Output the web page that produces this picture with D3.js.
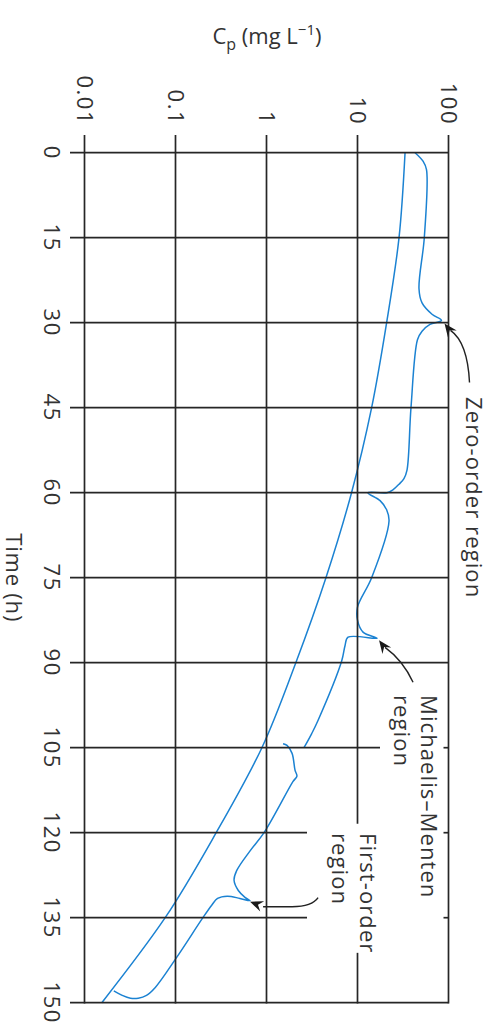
<!DOCTYPE html>
<html>
<head>
<meta charset="utf-8">
<script src="https://cdn.jsdelivr.net/npm/d3@7"></script>
<style>
  html, body { margin: 0; padding: 0; background: #fff; }
  svg { display: block; }
  text { font-family: "Open Sans", Lato, sans-serif; fill: #333; }
</style>
</head>
<body>
<svg id="chart" width="491" height="1030"></svg>
<script>
// ---------- data ----------
const cpTicks = [0.01, 0.1, 1, 10, 100];
const cpTickLabels = ["0.01", "0.1", "1", "10", "100"];
const timeTicks = [0, 15, 30, 45, 60, 75, 90, 105, 120, 135, 150];
const timeTickLabels = ["0", "15", "30", "45", "60", "75", "90", "105", "120", "135", "150"];

// single smooth decline
const curve1Time = [0, 15, 30, 45, 60, 75, 90, 105, 120, 135, 150];
const curve1Cp   = [33.3, 28.6, 20.9, 14.3, 8.6, 4.5, 2.1, 0.89, 0.28, 0.077, 0.0155];

// stepped trace (time, concentration), in drawing order; null = pen lifted
const curve2Time = [0, 1.5, 3, 15, 24, 26.5, 28.5, 29.6,
  30.3, 31.5, 33, 45, 56, 57.5, 58.5, 59.5, 60, 60,
  61.4, 63, 65, 75, 80.2, 82.5, 84.6, 85.7, 85.5,
  87, 89.7, 100.2, 102.5, 105, null, 104.3,
  104.6, 106, 109, 110, 111, 120, 123.2, 126.7, 128.4, 130.2, 131.4, 132,
  131.6, 131.2, 131.6,
  132.8, 135, 142, 147.3, 148.7, 149.2, 149.2, 148.7, 147.9];
const curve2Cp = [42.9, 52.5, 57.3, 54.2, 47.4, 51.2, 65.9, 83.8,
  62.6, 51.2, 45.6, 38.7, 35.0, 32.4, 28.6, 24.5, 21.1, 13.0,
  17.7, 20.9, 22.2, 14.3, 10.0, 10.0, 11.5, 16.4, 7.87,
  7.29, 6.70, 3.68, 3.14, 2.58, null, 1.52,
  1.68, 1.91, 2.06, 2.16, 1.95, 0.94, 0.66, 0.47, 0.44, 0.49, 0.58, 0.66,
  0.51, 0.37, 0.29,
  0.25, 0.20, 0.103, 0.060, 0.048, 0.039, 0.032, 0.026, 0.021];

// annotations: label lines and the point on the trace they point at
const annoLabels  = [["Zero-order region"], ["Michaelis\u2013Menten", "region"], ["First-order", "region"]];
const annoTargetT = [29.6, 85.7, 132];
const annoTargetCp = [83.8, 16.4, 0.66];

// ---------- layout ----------
const svg = d3.select("#chart");
const x = d3.scaleLog().domain([0.01, 100]).range([84.5, 448.5]);
const y = d3.scaleLinear().domain([0, 150]).range([152.7, 1002.7]);
const FS = 22;
const gridColor = "#262626";
const blue = "#1b82d2";

const c1 = curve1Time.map((t, i) => ({ t, cp: curve1Cp[i] }));
const c2 = curve2Time.map((t, i) => ({ t, cp: curve2Cp[i] }));

const line1 = d3.line().x(d => x(d.cp)).y(d => y(d.t)).curve(d3.curveMonotoneY);
const line2 = d3.line().defined(d => d.cp != null && d.t != null)
  .x(d => x(d.cp)).y(d => y(d.t)).curve(d3.curveCatmullRom.alpha(0.5));

// curves
svg.append("path").attr("d", line1(c1)).attr("fill", "none")
  .attr("stroke", blue).attr("stroke-width", 1.5);
svg.append("path").attr("d", line2(c2)).attr("fill", "none")
  .attr("stroke", blue).attr("stroke-width", 1.5).attr("stroke-linejoin", "round");

// grid
const grid = svg.append("g").attr("stroke", gridColor).attr("stroke-width", 1.7);
const xLeftStub = 70, yTopStub = 135;
const hEnd = { 105: 380, 120: 307, 135: 307 };
timeTicks.forEach(t => {
  const xe = hEnd[t] !== undefined ? hEnd[t] : x(100);
  grid.append("line").attr("x1", xLeftStub).attr("x2", xe)
    .attr("y1", y(t)).attr("y2", y(t));
  if (hEnd[t] !== undefined) {
    grid.append("line").attr("x1", x(100) - 5).attr("x2", x(100))
      .attr("y1", y(t)).attr("y2", y(t));
  }
});
cpTicks.forEach(c => {
  if (c === 10) {
    grid.append("line").attr("x1", x(c)).attr("x2", x(c)).attr("y1", yTopStub).attr("y2", y(118.4));
    grid.append("line").attr("x1", x(c)).attr("x2", x(c)).attr("y1", y(141.2)).attr("y2", y(150) + 0.8);
  } else {
    grid.append("line").attr("x1", x(c)).attr("x2", x(c)).attr("y1", yTopStub).attr("y2", y(150) + 0.8);
  }
});

// tick labels
cpTicks.forEach((c, i) => {
  svg.append("text").attr("transform", `translate(${x(c)},125) rotate(90)`)
    .attr("text-anchor", "end").attr("dy", "0.36em")
    .style("font-size", FS + "px").style("letter-spacing", "1.5px").text(cpTickLabels[i]);
});
timeTicks.forEach((t, i) => {
  svg.append("text").attr("transform", `translate(52,${y(t)}) rotate(90)`)
    .attr("text-anchor", "middle").attr("dy", "0.36em")
    .style("font-size", FS + "px").style("letter-spacing", "1.5px").text(timeTickLabels[i]);
});

// axis titles
svg.append("text").attr("transform", `translate(14,${y(75)}) rotate(90)`)
  .attr("text-anchor", "middle").attr("dy", "0.36em")
  .style("font-size", FS + "px").style("letter-spacing", "0.8px").text("Time (h)");
const title = svg.append("text").attr("x", 267).attr("y", 44)
  .attr("text-anchor", "middle").style("font-size", FS + "px");
title.append("tspan").text("C");
title.append("tspan").attr("dy", 6).style("font-size", "16px").text("p");
title.append("tspan").attr("dy", -6).text(" (mg L");
title.append("tspan").attr("dy", -9).style("font-size", "15px").text("\u22121");
title.append("tspan").attr("dy", 9).text(")");

// annotation texts
const annoPos = [
  { bx: [466], y0: 397 },
  { bx: [421, 394], y0: 695 },
  { bx: [360, 332], y0: 833 }
];
annoLabels.forEach((lines, i) => {
  lines.forEach((s, j) => {
    svg.append("text").attr("transform", `translate(${annoPos[i].bx[j]},${annoPos[i].y0}) rotate(90)`)
      .attr("text-anchor", "start").style("font-size", FS + "px")
      .style("letter-spacing", "1.1px").text(s);
  });
});

// annotation arrows (tail offset relative to target point, in px)
const arrowGeom = [
  { tail: [28, 62], ctrl: [26, 22], tip: [3, 3] },
  { tail: [36, 44], ctrl: [26, 22], tip: [2, 2] },
  { tail: [68, -3], path: "wave", tip: [0, 1] }
];
const arrows = svg.append("g");
annoTargetT.forEach((t, i) => {
  const px = x(annoTargetCp[i]), py = y(t);
  const g = arrowGeom[i];
  const tipX = px + g.tip[0], tipY = py + g.tip[1];
  let d, ang;
  if (g.path === "wave") {
    const bx = tipX + 13, by = tipY + 5;
    d = `M${px + g.tail[0]},${py + g.tail[1]} Q${px + 62},${by} ${px + 42},${by} L${bx},${by}`;
    ang = Math.atan2(tipY - by, tipX - bx);
  } else {
    const cx = px + g.ctrl[0], cy = py + g.ctrl[1];
    d = `M${px + g.tail[0]},${py + g.tail[1]} Q${cx},${cy} ${tipX + 6},${tipY + 7}`;
    ang = Math.atan2(tipY - (tipY + 9), tipX - (tipX + 9 * (g.ctrl[0] > 30 ? 1 : 0.75)));
  }
  arrows.append("path").attr("d", d).attr("fill", "none")
    .attr("stroke", "#222").attr("stroke-width", 1.4);
  const L = 13, W = 5.5;
  const bxp = tipX - L * Math.cos(ang), byp = tipY - L * Math.sin(ang);
  const nx = -Math.sin(ang) * W, ny = Math.cos(ang) * W;
  arrows.append("path")
    .attr("d", `M${tipX},${tipY} L${bxp + nx},${byp + ny} L${bxp + 0.35 * L * Math.cos(ang)},${byp + 0.35 * L * Math.sin(ang)} L${bxp - nx},${byp - ny} Z`)
    .attr("fill", "#1a1a1a");
});
</script>
</body>
</html>
